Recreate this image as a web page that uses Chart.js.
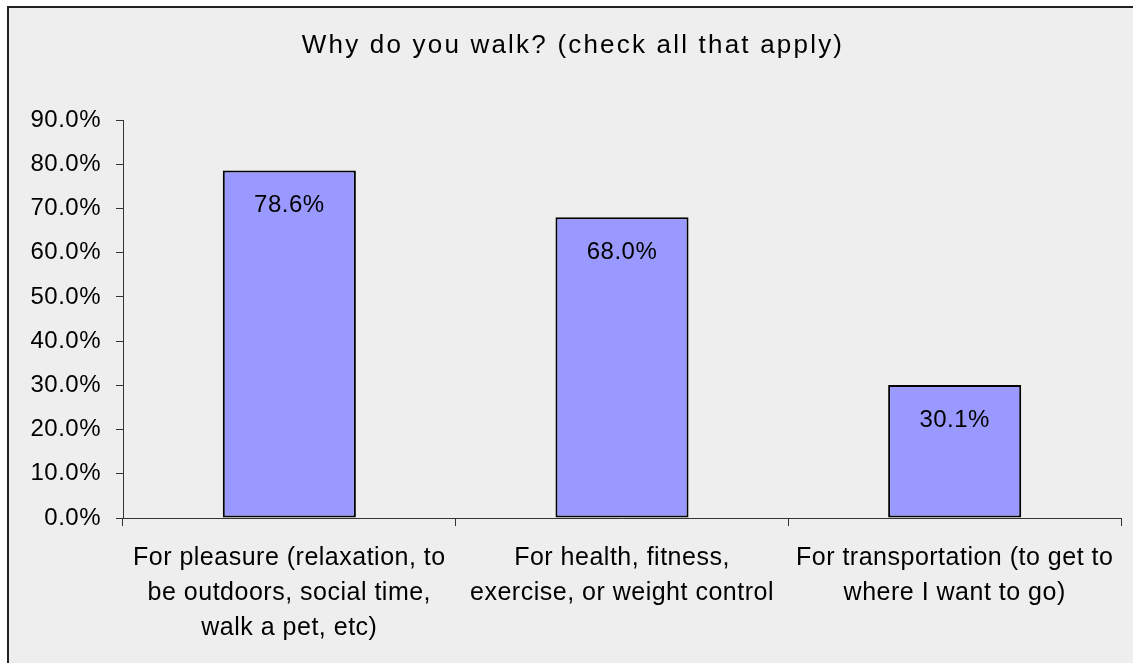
<!DOCTYPE html>
<html>
<head>
<meta charset="utf-8">
<script src="https://cdn.jsdelivr.net/npm/chart.js@4/dist/chart.umd.min.js"></script>
<style>
  html, body { margin: 0; padding: 0; background: #fff; }
  #wrap { position: relative; width: 1133px; height: 663px; }
</style>
</head>
<body>
<div id="wrap"><canvas id="walkChart" width="1133" height="663"></canvas></div>
<script>
const categories = [
  ['For pleasure (relaxation, to', 'be outdoors, social time,', 'walk a pet, etc)'],
  ['For health, fitness,', 'exercise, or weight control'],
  ['For transportation (to get to', 'where I want to go)'],
];
const shares = [78.6, 68.0, 30.1];
const chartTitle = 'Why do you walk? (check all that apply)';

const FONT = '"Liberation Sans", Arial, sans-serif';

// grey panel with dark border, and the spaced-out title
const panel = {
  id: 'panel',
  beforeDraw(chart) {
    const c = chart.ctx;
    c.save();
    c.fillStyle = '#fff';
    c.fillRect(0, 0, chart.width, chart.height);
    c.fillStyle = '#eeeeee';
    c.fillRect(7, 6, chart.width, chart.height);
    c.fillStyle = '#222';
    c.fillRect(7, 6, 2, chart.height);
    c.fillRect(7, 6, chart.width, 2);
    c.restore();
    // slightly loose spacing for the axis labels, like the original
    c.letterSpacing = '0.5px';
  },
  beforeDatasetsDraw(chart) {
    chart.ctx.letterSpacing = '0px';
  },
  afterDraw(chart) {
    const c = chart.ctx;
    c.save();
    c.font = '26px ' + FONT;
    c.letterSpacing = '2.2px';
    c.fillStyle = '#000';
    c.textAlign = 'center';
    c.textBaseline = 'alphabetic';
    c.fillText(chartTitle, 573, 53);
    c.restore();
  }
};

const barLabels = {
  id: 'barLabels',
  afterDatasetsDraw(chart) {
    const c = chart.ctx;
    const meta = chart.getDatasetMeta(0);
    c.save();
    c.font = '24px ' + FONT;
    c.letterSpacing = '0.5px';
    c.fillStyle = '#000';
    c.textAlign = 'center';
    c.textBaseline = 'middle';
    meta.data.forEach((bar, i) => {
      c.fillText(shares[i].toFixed(1) + '%', bar.x, bar.y + 35);
    });
    c.restore();
  }
};

new Chart(document.getElementById('walkChart').getContext('2d'), {
  type: 'bar',
  data: {
    labels: categories,
    datasets: [{
      data: shares,
      backgroundColor: '#9999ff',
      borderColor: '#000',
      borderWidth: 2,
      borderSkipped: false,
      barPercentage: 0.4,
      categoryPercentage: 1,
    }],
  },
  options: {
    responsive: false,
    animation: false,
    layout: { padding: { top: 120, right: 12, left: 0, bottom: 0 } },
    plugins: {
      legend: { display: false },
      title: { display: false },
      tooltip: { enabled: false },
    },
    scales: {
      y: {
        min: 0,
        max: 90,
        ticks: {
          stepSize: 10,
          color: '#000',
          padding: 15,
          font: { family: FONT, size: 24 },
          callback: v => v.toFixed(1) + '%',
        },
        grid: { drawOnChartArea: false, tickLength: 7, color: '#333' },
        border: { color: '#333', width: 1 },
        afterFit(scale) { scale.width = 123; },
      },
      x: {
        ticks: {
          color: '#000',
          padding: 15,
          maxRotation: 0,
          autoSkip: false,
          font: { family: FONT, size: 25, lineHeight: 35 / 25 },
        },
        grid: { drawOnChartArea: false, tickLength: 8, color: '#333', offset: true },
        border: { color: '#333', width: 1 },
        afterFit(scale) { scale.height = 145; },
      },
    },
  },
  plugins: [panel, barLabels],
});
</script>
</body>
</html>
